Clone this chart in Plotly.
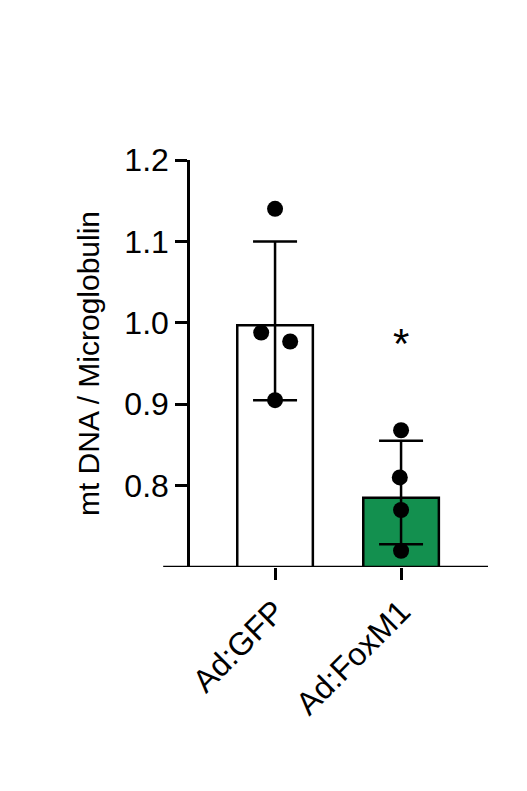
import plotly.graph_objects as go

groups = ['Ad:GFP', 'Ad:FoxM1']
means = [0.997, 0.785]
err_hi = [1.100, 0.855]
err_lo = [0.905, 0.728]
gfp_pts = [1.140, 0.988, 0.977, 0.905]
gfp_jit = [0.0, -0.11, 0.12, 0.0]
fox_pts = [0.868, 0.810, 0.770, 0.720]
fox_jit = [0.0, -0.01, 0.0, 0.0]
bar_colors = ['white', '#13904f']

xs = [0, 1]
fig = go.Figure()
fig.add_trace(go.Bar(x=xs, y=means, width=0.6, base=0,
                     marker=dict(color=bar_colors, line=dict(color='black', width=2.5))))
fig.add_trace(go.Scatter(
    x=xs, y=means, mode='markers', marker=dict(size=1, color='rgba(0,0,0,0)'),
    error_y=dict(type='data', symmetric=False,
                 array=[h - m for h, m in zip(err_hi, means)],
                 arrayminus=[m - l for l, m in zip(err_lo, means)],
                 color='black', thickness=2.5, width=22)))
fig.add_trace(go.Scatter(x=[0 + j for j in gfp_jit], y=gfp_pts, mode='markers',
                         marker=dict(size=16, color='black')))
fig.add_trace(go.Scatter(x=[1 + j for j in fox_jit], y=fox_pts, mode='markers',
                         marker=dict(size=16, color='black')))
fig.add_annotation(x=1, y=0.975, text='*', showarrow=False,
                   font=dict(size=42, color='black', family='Arial'))

# x axis baseline extends to the left of the y axis
fig.add_shape(type='line', xref='paper', yref='y', x0=-0.09, x1=1, y0=0.7, y1=0.7,
              line=dict(color='black', width=2.5))

fig.update_layout(
    width=527, height=791, showlegend=False,
    paper_bgcolor='white', plot_bgcolor='white',
    margin=dict(l=182, r=47, t=152, b=232),
    font=dict(family='Arial', size=32, color='black'),
)
fig.update_xaxes(range=[-0.675, 1.69], tickvals=xs, ticktext=groups, tickangle=-45,
                 showline=False, ticks='outside', ticklen=12, tickwidth=2.5, tickcolor='black',
                 showgrid=False, zeroline=False)
fig.update_yaxes(range=[0.7, 1.2], tickvals=[0.8, 0.9, 1.0, 1.1, 1.2],
                 ticktext=['0.8', '0.9', '1.0', '1.1', '1.2'],
                 showline=True, linecolor='black', linewidth=2.5,
                 ticks='outside', ticklen=12, tickwidth=2.5, tickcolor='black',
                 showgrid=False, zeroline=False,
                 title=dict(text='mt DNA / Microglobulin', standoff=16, font=dict(size=30)))
fig.write_html('out.html')
